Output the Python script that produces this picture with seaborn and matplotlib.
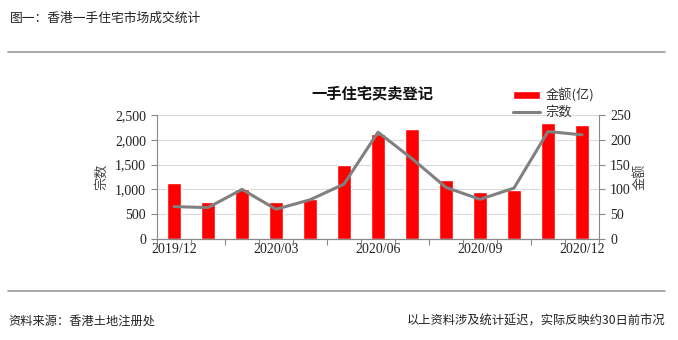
import matplotlib
matplotlib.use("Agg")
import matplotlib.pyplot as plt
import seaborn as sns
import pandas as pd
from matplotlib.ticker import FuncFormatter, FixedLocator, MultipleLocator

sns.set_theme(style="white")
plt.rcParams['font.family'] = ['Noto Sans CJK SC', 'DejaVu Sans']

months = ["2019/12", "2020/01", "2020/02", "2020/03", "2020/04", "2020/05", "2020/06",
          "2020/07", "2020/08", "2020/09", "2020/10", "2020/11", "2020/12"]
amount = [112, 75, 100, 75, 81, 150, 212, 221, 118, 95, 99, 233, 229]      # 金额(亿)
counts = [653, 633, 1000, 600, 790, 1107, 2153, 1620, 1040, 800, 1027, 2167, 2100]  # 宗数
shown_labels = ["2019/12", "2020/03", "2020/06", "2020/09", "2020/12"]

df = pd.DataFrame({"month": months, "amount": amount, "counts": counts})

fig = plt.figure(figsize=(6.78, 3.4), dpi=100)
ax = fig.add_axes([157/678, 1-239/340, 442/678, 124/340])
ax2 = ax.twinx()

num_font = dict(family=['Liberation Serif', 'DejaVu Serif'], size=10)

# bars on right axis (金额)
sns.barplot(data=df, x="month", y="amount", ax=ax2, color="#FF0000", width=0.4,
            saturation=1, label="金额(亿)", zorder=2)
# line on left axis (宗数)
sns.pointplot(data=df, x="month", y="counts", ax=ax, color="#808080", markers="",
              linestyles="-", label="宗数")
for l in ax.lines:
    l.set_linewidth(2.2)

ax.set_zorder(ax2.get_zorder() + 1)
ax.patch.set_visible(False)

ax.set_ylim(0, 2500)
ax2.set_ylim(0, 250)
ax.set_xlim(-0.5, len(months) - 0.5)
ax.yaxis.set_major_locator(MultipleLocator(500))
ax2.yaxis.set_major_locator(MultipleLocator(50))
ax.yaxis.set_major_formatter(FuncFormatter(lambda v, p: f"{int(v):,}"))

ax2.grid(axis='y', color='#d9d9d9', linewidth=0.8, zorder=0)
ax2.set_axisbelow(True)
ax.grid(False)

# x ticks
pos = [months.index(m) for m in shown_labels]
ax.xaxis.set_major_locator(FixedLocator(pos))
ax.set_xticklabels(shown_labels, fontdict=num_font, color='#222222')
ax.xaxis.set_minor_locator(FixedLocator([i - 0.5 for i in range(len(months) + 1)]))
ax.tick_params(axis='x', which='major', length=0, pad=3)
ax.tick_params(axis='x', which='minor', length=4, width=0.8, color='#888888', direction='out', bottom=True)
ax2.tick_params(axis='x', which='both', length=0, labelbottom=False)
ax.set_xlabel("")
ax2.set_xlabel("")

for t in ax.get_yticklabels() + ax2.get_yticklabels():
    t.set_fontfamily(['Liberation Serif', 'DejaVu Serif'])
    t.set_fontsize(10)
    t.set_color('#222222')
ax.tick_params(axis='y', length=4, width=0.8, color='#888888', direction='out', left=True, pad=4)
ax2.tick_params(axis='y', length=4, width=0.8, color='#888888', direction='out', right=True, pad=4)

for a in (ax, ax2):
    a.spines['top'].set_visible(False)
    for s in ['left', 'right', 'bottom']:
        a.spines[s].set_color('#888888')
        a.spines[s].set_linewidth(0.8)
ax.spines['right'].set_visible(False)
ax2.spines['left'].set_visible(False)

ax.set_ylabel("宗数", fontsize=9.5, color='#444444', rotation=90, labelpad=5)
ax2.set_ylabel("金额", fontsize=9.5, color='#444444', rotation=90, labelpad=2)

# legend
h1, l1 = ax2.get_legend_handles_labels()
h2, l2 = ax.get_legend_handles_labels()
if ax2.get_legend():
    ax2.get_legend().remove()
if ax.get_legend():
    ax.get_legend().remove()
leg = fig.legend(h1 + h2, l1 + l2, loc='upper left', bbox_to_anchor=(506/678, 1-82/340),
                 frameon=False, fontsize=9.5, handlelength=2.1, handleheight=0.6,
                 labelspacing=0.25, borderpad=0, handletextpad=0.4)
for t in leg.get_texts():
    t.set_color('#333333')

# chart title
fig.text(372/678, 1-93/340, "一手住宅买卖登记", ha='center', va='center', fontsize=11,
         fontweight='bold', color='#111111')

# header and footer
fig.text(10/678, 1-18/340, "图一：香港一手住宅市场成交统计", ha='left', va='center',
         fontsize=9.2, color='#222222')
fig.add_artist(plt.Line2D([8/678, 665/678], [1-51.5/340, 1-51.5/340], color='#999999', linewidth=1.2))
fig.add_artist(plt.Line2D([8/678, 665/678], [1-291/340, 1-291/340], color='#999999', linewidth=1.2))
fig.text(8/678, 1-321/340, "资料来源：香港土地注册处", ha='left', va='center',
         fontsize=8.8, color='#222222', style='italic')
fig.text(665/678, 1-321/340, "以上资料涉及统计延迟，实际反映约30日前市况", ha='right', va='center',
         fontsize=8.8, color='#222222', style='italic')

fig.savefig("out.png", dpi=100, facecolor='white')
